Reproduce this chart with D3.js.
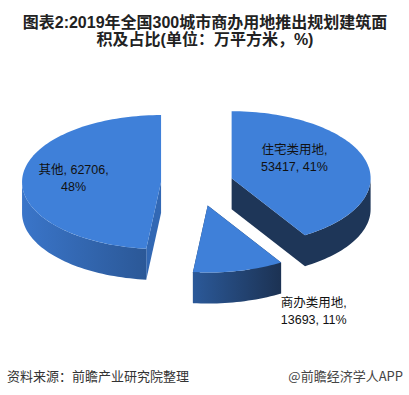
<!DOCTYPE html>
<html>
<head>
<meta charset="utf-8">
<script src="https://cdn.jsdelivr.net/npm/d3@7"></script>
<style>
  body { margin: 0; background: #fff; }
  svg { display: block; }
</style>
</head>
<body>
<svg id="chart" width="409" height="395"></svg>
<script>
const categories = ["住宅类用地", "商办类用地", "其他"];
const values = [53417, 13693, 62706];
const titleLines = ["图表2:2019年全国300城市商办用地推出规划建筑面", "积及占比(单位：万平方米，%)"];
const sourceText = "资料来源：前瞻产业研究院整理";
const brandText = "@前瞻经济学人APP";

const W = 409, H = 395;
const cx = 197, cy = 183, rx = 139, ry = 67, depth = 31;
const explode = [36, 48, 36];
const topColor = "#3f80d9";

const svg = d3.select("#chart");
const total = d3.sum(values);

const pie = d3.pie().sort(null).value(d => d.value);
const arcs = pie(categories.map((c, i) => ({ name: c, value: values[i] })));

// unit circle -> screen, angle measured clockwise from 12 o'clock
const sx = d3.scaleLinear().domain([-1, 1]).range([-rx, rx]);
const sy = d3.scaleLinear().domain([-1, 1]).range([ry, -ry]);

function centerOf(d) {
  const m = (d.startAngle + d.endAngle) / 2;
  const e = explode[d.index] / rx;
  return [cx + sx(Math.sin(m) * e), cy + sy(Math.cos(m) * e)];
}
function pt(c, a, r = 1, dy = 0) {
  return [c[0] + sx(Math.sin(a) * r), c[1] + sy(Math.cos(a) * r) + dy];
}
function arcPts(c, a0, a1, dy = 0) {
  const n = Math.max(2, Math.ceil(Math.abs(a1 - a0) / 0.03));
  return d3.range(n + 1).map(i => pt(c, a0 + (a1 - a0) * i / n, 1, dy));
}
const line = d3.line();

const defs = svg.append("defs");
const wallGrad = [
  ["#1e3658", "#1e3658"],
  ["#2b5999", "#1c3253"],
  ["#3a75c9", "#2b5897"]
];
wallGrad.forEach((g, i) => {
  const lg = defs.append("linearGradient").attr("id", "wall" + i)
    .attr("x1", "0%").attr("x2", "100%").attr("y1", "0%").attr("y2", "0%");
  lg.append("stop").attr("offset", "0%").attr("stop-color", g[0]);
  lg.append("stop").attr("offset", "100%").attr("stop-color", g[1]);
});
const radialColor = ["#1e3658", "#1e3658", "#3268b4"];

// title
svg.append("g").selectAll("text").data(titleLines).join("text")
  .attr("x", 205).attr("y", (d, i) => 28 + i * 17)
  .attr("text-anchor", "middle")
  .style("font-family", "'Liberation Sans', 'Noto Sans CJK SC', sans-serif")
  .style("font-weight", "bold").style("font-size", "16px").style("fill", "#222")
  .text(d => d);

const slices = svg.append("g");
arcs.forEach((d, i) => {
  const c = centerOf(d);
  const g = slices.append("g");
  // radial faces
  [d.startAngle, d.endAngle].forEach(a => {
    const e = pt(c, a);
    g.append("path")
      .attr("d", line([c, e, [e[0], e[1] + depth], [c[0], c[1] + depth]]) + "Z")
      .attr("fill", radialColor[i]);
  });
  // outer wall, front half only
  const w0 = Math.max(d.startAngle, Math.PI / 2), w1 = Math.min(d.endAngle, Math.PI * 1.5);
  if (w1 > w0) {
    const topArc = arcPts(c, w0, w1);
    const botArc = arcPts(c, w1, w0, depth);
    g.append("path").attr("d", line(topArc.concat(botArc)) + "Z")
      .attr("fill", "url(#wall" + i + ")");
  }
  // top face
  g.append("path").attr("d", line([c].concat(arcPts(c, d.startAngle, d.endAngle))) + "Z")
    .attr("fill", topColor);
});

// labels
const labelPlace = [
  { r: 0.47, dy: -16 },
  { r: 1.0, dx: 75, dy: 36 },
  { r: 0.63, dy: -6 }
];
const labels = svg.append("g")
  .style("font-family", "'Liberation Sans', 'Noto Sans CJK SC', sans-serif")
  .style("font-size", "12.5px").style("fill", "#111");
arcs.forEach((d, i) => {
  const c = centerOf(d);
  const m = (d.startAngle + d.endAngle) / 2;
  const p = pt(c, m, labelPlace[i].r);
  const x = p[0] + (labelPlace[i].dx || 0), y = p[1] + labelPlace[i].dy;
  const pct = Math.round(d.value / total * 100) + "%";
  const lines = i === 2
    ? [d.data.name + ", " + d.data.value + ",", pct]
    : [d.data.name + ",", d.data.value + ", " + pct];
  labels.append("g").selectAll("text").data(lines).join("text")
    .attr("x", x).attr("y", (t, k) => y + k * 17)
    .attr("text-anchor", "middle")
    .text(t => t);
});

// footer
svg.append("text").attr("x", 7).attr("y", 381)
  .style("font-family", "'Noto Sans CJK SC', sans-serif")
  .style("font-size", "13px").style("fill", "#333").text(sourceText);
svg.append("text").attr("x", 403).attr("y", 381).attr("text-anchor", "end")
  .style("font-family", "'Noto Sans CJK SC', sans-serif")
  .style("font-size", "13px").style("fill", "#444").text(brandText);
</script>
</body>
</html>
